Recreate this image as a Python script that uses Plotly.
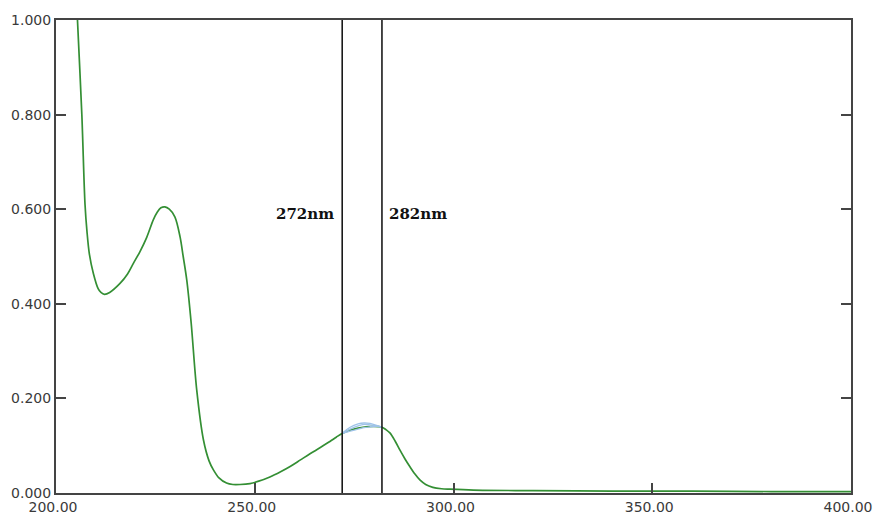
import plotly.graph_objects as go

# Absorption spectrum (wavelength in nm, absorbance)
wavelength = [205.0, 205.4, 206.5, 207.3, 207.8, 208.4, 209.4, 210.6, 211.3, 212.2,
              213.5, 216.1, 218.0, 219.5, 221.1, 222.8, 224.5, 225.5, 226.4, 227.4,
              228.5, 229.9, 231.2, 232.0, 232.9, 234.0, 235.4, 237.1, 238.5, 239.6,
              241.0, 242.9, 244.5, 246.3, 248.8, 251.0, 253.8, 256.5, 258.9, 261.5,
              263.9, 266.5, 268.9, 270.5, 272.0, 274.0, 276.0, 278.0, 280.0, 282.0,
              283.0, 284.0, 285.3, 286.5, 287.8, 289.0, 290.3, 291.6, 293.0, 294.8,
              297.0, 299.1, 305.0, 320.0, 340.0, 360.0, 380.0, 400.0]
absorbance = [1.08, 1.000, 0.800, 0.610, 0.552, 0.505, 0.464, 0.432, 0.424, 0.420,
              0.424, 0.443, 0.463, 0.486, 0.510, 0.540, 0.578, 0.594, 0.603, 0.605,
              0.600, 0.584, 0.542, 0.500, 0.450, 0.360, 0.218, 0.112, 0.068, 0.049,
              0.032, 0.021, 0.018, 0.018, 0.020, 0.025, 0.034, 0.045, 0.056, 0.070,
              0.083, 0.096, 0.109, 0.118, 0.126, 0.133, 0.137, 0.140, 0.141, 0.139,
              0.134, 0.127, 0.110, 0.091, 0.072, 0.056, 0.040, 0.027, 0.018, 0.012,
              0.009, 0.008, 0.006, 0.005, 0.004, 0.004, 0.003, 0.003]

# Overlaid replicate scans in the 272-282 nm band
band_wl = [272.0, 274.0, 276.0, 277.5, 279.0, 281.0, 282.0]
scan_a = [0.126, 0.139, 0.146, 0.148, 0.147, 0.142, 0.139]
scan_b = [0.126, 0.131, 0.135, 0.138, 0.140, 0.141, 0.139]
scan_c = [0.126, 0.135, 0.142, 0.145, 0.144, 0.141, 0.139]

# Marker wavelengths
markers = [272, 282]
marker_labels = ["272nm", "282nm"]

x_ticks = [200, 250, 300, 350, 400]
y_ticks = [0.0, 0.2, 0.4, 0.6, 0.8, 1.0]

fig = go.Figure()

fig.add_trace(go.Scatter(
    x=wavelength, y=absorbance, mode="lines",
    line=dict(color="#348f34", width=1.7, shape="spline", smoothing=0.9),
    hoverinfo="skip", showlegend=False,
))

for scan in (scan_a, scan_b, scan_c):
    fig.add_trace(go.Scatter(
        x=band_wl, y=scan, mode="lines",
        line=dict(color="#9fc3e8", width=1.3, shape="spline"),
        hoverinfo="skip", showlegend=False,
    ))

for wl in markers:
    fig.add_trace(go.Scatter(
        x=[wl, wl], y=[0, 1], mode="lines",
        line=dict(color="#1a1a1a", width=1.6),
        hoverinfo="skip", showlegend=False,
    ))

label_font = dict(family="DejaVu Serif", size=15, color="#111111")
fig.add_annotation(x=markers[0] - 1.5, y=0.589, text="<b>" + marker_labels[0] + "</b>",
                   showarrow=False, xanchor="right", yanchor="middle", font=label_font)
fig.add_annotation(x=markers[1] + 1.2, y=0.589, text="<b>" + marker_labels[1] + "</b>",
                   showarrow=False, xanchor="left", yanchor="middle", font=label_font)

tick_font = dict(family="DejaVu Sans", size=14, color="#3a3a3a")

fig.update_xaxes(
    range=[200, 400], tickvals=x_ticks,
    ticktext=[f"{v:.2f}" for v in x_ticks],
    showgrid=False, zeroline=False, automargin=False,
    showline=True, linecolor="#444444", linewidth=2, mirror=True,
    ticks="inside", ticklen=10, tickwidth=1.5, tickcolor="#444444",
    tickfont=tick_font, ticklabelshift=-3, ticklabeloverflow="allow",
)
fig.update_yaxes(
    range=[0, 1], tickvals=y_ticks,
    ticktext=[f"{v:.3f}" for v in y_ticks],
    showgrid=False, zeroline=False, automargin=False,
    showline=True, linecolor="#444444", linewidth=2, mirror="ticks",
    ticks="inside", ticklen=10, tickwidth=1.5, tickcolor="#444444",
    tickfont=tick_font,
)

fig.update_layout(
    width=874, height=517,
    margin=dict(l=56, r=23, t=20, b=24),
    plot_bgcolor="white", paper_bgcolor="white",
)

fig.write_html("out.html")
